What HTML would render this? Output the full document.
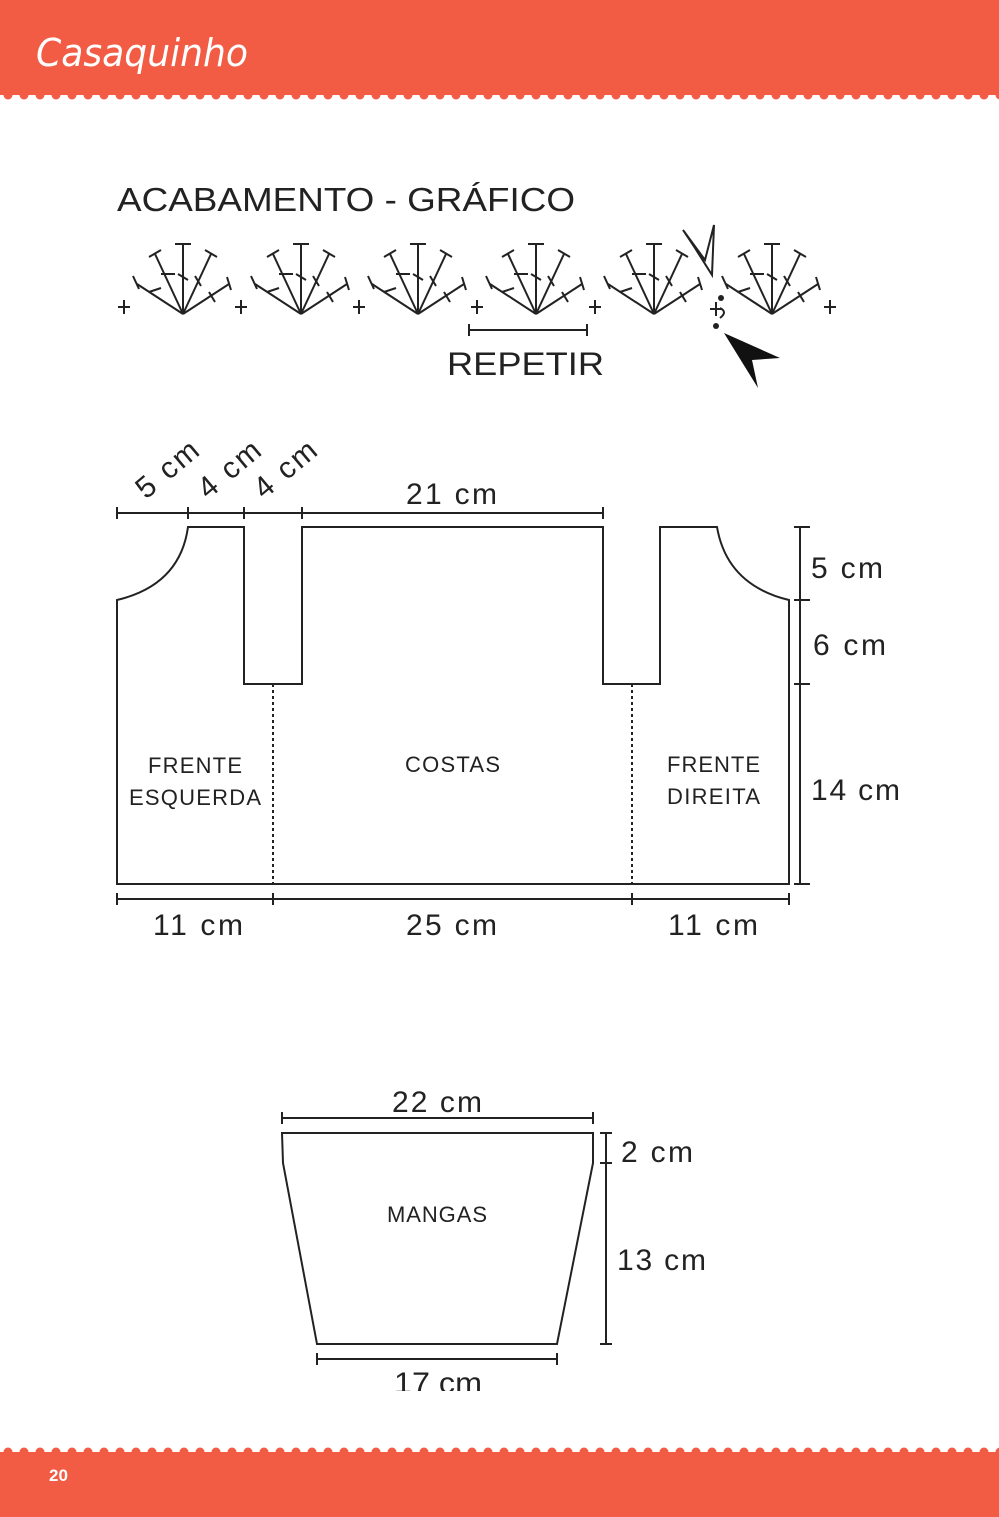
<!DOCTYPE html>
<html><head><meta charset="utf-8"><style>
html,body{margin:0;padding:0;background:#fff}
svg{display:block}
</style></head><body>
<svg width="999" height="1517" viewBox="0 0 999 1517" xmlns="http://www.w3.org/2000/svg" font-family="Liberation Sans, sans-serif">
<defs>
<pattern id="sc" x="0" y="90" width="16" height="10" patternUnits="userSpaceOnUse">
<circle cx="8" cy="5" r="4.5" fill="#f25c45"/>
</pattern>
<pattern id="sc2" x="0" y="1447" width="16" height="10" patternUnits="userSpaceOnUse">
<circle cx="8" cy="5" r="4.5" fill="#f25c45"/>
</pattern>
<g id="fan" stroke="#222" stroke-width="2" fill="none">
<line x1="0" y1="0" x2="0" y2="-70"/><line x1="-8" y1="-70" x2="8" y2="-70"/><line x1="-5" y1="-40" x2="5" y2="-34"/>
<line x1="0" y1="0" x2="-28" y2="-60"/><line x1="-34" y1="-57" x2="-22" y2="-64"/><line x1="-22" y1="-40" x2="-8" y2="-40"/>
<line x1="0" y1="0" x2="28" y2="-60"/><line x1="22" y1="-64" x2="34" y2="-57"/><line x1="12" y1="-38" x2="18" y2="-28"/>
<line x1="0" y1="0" x2="-46" y2="-30"/><line x1="-50" y1="-38" x2="-44" y2="-25"/><line x1="-34" y1="-22" x2="-22" y2="-26"/>
<line x1="0" y1="0" x2="46" y2="-30"/><line x1="44" y1="-37" x2="48" y2="-24"/><line x1="26" y1="-22" x2="32" y2="-12"/>
</g>
<g id="plus" stroke="#222" stroke-width="2"><line x1="-6" y1="0" x2="6" y2="0"/><line x1="0" y1="-7" x2="0" y2="7"/></g>
</defs>
<rect x="0" y="0" width="999" height="95" fill="#f25c45"/>
<rect x="0" y="90" width="999" height="10" fill="url(#sc)"/>
<text x="36" y="66" font-family="DejaVu Sans, sans-serif" font-style="italic" font-size="38" fill="#fff" textLength="212" lengthAdjust="spacingAndGlyphs">Casaquinho</text>
<rect x="0" y="1452" width="999" height="65" fill="#f25c45"/>
<rect x="0" y="1447" width="999" height="10" fill="url(#sc2)"/>
<text x="49" y="1481" font-size="17" font-weight="bold" fill="#fff">20</text>

<text x="117" y="211" font-size="33" fill="#222" textLength="458" lengthAdjust="spacingAndGlyphs">ACABAMENTO - GRÁFICO</text>
<use href="#fan" x="183" y="314"/><use href="#fan" x="301" y="314"/><use href="#fan" x="418" y="314"/>
<use href="#fan" x="536" y="314"/><use href="#fan" x="654" y="314"/><use href="#fan" x="772" y="314"/>
<use href="#plus" x="124" y="307"/><use href="#plus" x="241" y="307"/><use href="#plus" x="359" y="307"/>
<use href="#plus" x="477" y="307"/><use href="#plus" x="595" y="307"/><use href="#plus" x="716" y="309"/><use href="#plus" x="830" y="307"/>
<path d="M683 230 L705 260 L714 225 L712 275 L695 248 Z" fill="none" stroke="#222" stroke-width="2"/>
<circle cx="721" cy="298" r="3" fill="#222"/><circle cx="716" cy="326" r="3" fill="#222"/>
<path d="M720 308 q8 4 0 10" fill="none" stroke="#222" stroke-width="2"/>
<path d="M724 333 L780 358 L752 360 L758 388 Z" fill="#111"/>
<g stroke="#222" stroke-width="2"><line x1="469" y1="330" x2="587" y2="330"/><line x1="469" y1="324" x2="469" y2="336"/><line x1="587" y1="324" x2="587" y2="336"/></g>
<text x="447" y="375" font-size="32" fill="#222" textLength="157" lengthAdjust="spacingAndGlyphs">REPETIR</text>

<g stroke="#222" stroke-width="2" fill="none">
<path d="M117 884 L117 600 Q180 585 188 527 L244 527 L244 684 L302 684 L302 527 L603 527 L603 684 L660 684 L660 527 L717 527 Q727 585 789 600 L789 884 Z"/>
<line x1="117" y1="513" x2="603" y2="513"/>
<line x1="117" y1="507" x2="117" y2="519"/><line x1="188" y1="507" x2="188" y2="519"/><line x1="244" y1="507" x2="244" y2="519"/><line x1="302" y1="507" x2="302" y2="519"/><line x1="603" y1="507" x2="603" y2="519"/>
<line x1="800" y1="527" x2="800" y2="884"/>
<line x1="794" y1="527" x2="810" y2="527"/><line x1="794" y1="600" x2="810" y2="600"/><line x1="794" y1="684" x2="810" y2="684"/><line x1="794" y1="884" x2="810" y2="884"/>
<line x1="117" y1="899" x2="789" y2="899"/>
<line x1="117" y1="893" x2="117" y2="905"/><line x1="273" y1="893" x2="273" y2="905"/><line x1="632" y1="893" x2="632" y2="905"/><line x1="789" y1="893" x2="789" y2="905"/>
<line x1="273" y1="684" x2="273" y2="884" stroke-dasharray="3 3"/>
<line x1="632" y1="684" x2="632" y2="884" stroke-dasharray="3 3"/>
</g>
<g font-size="30" fill="#222" lengthAdjust="spacingAndGlyphs">
<text x="146" y="500" transform="rotate(-40 146 500)" textLength="72">5 cm</text>
<text x="208" y="500" transform="rotate(-40 208 500)" textLength="72">4 cm</text>
<text x="264" y="500" transform="rotate(-40 264 500)" textLength="72">4 cm</text>
<text x="406" y="504" textLength="91">21 cm</text>
<text x="811" y="578" textLength="72">5 cm</text>
<text x="813" y="655" textLength="73">6 cm</text>
<text x="811" y="800" textLength="89">14 cm</text>
<text x="153" y="935" textLength="90">11 cm</text>
<text x="406" y="935" textLength="91">25 cm</text>
<text x="668" y="935" textLength="90">11 cm</text>
<text x="392" y="1112" textLength="90">22 cm</text>
<text x="621" y="1162" textLength="72">2 cm</text>
<text x="617" y="1270" textLength="89">13 cm</text>
</g>
<g font-size="22" fill="#222" lengthAdjust="spacingAndGlyphs">
<text x="148" y="773" textLength="94">FRENTE</text><text x="129" y="805" textLength="132">ESQUERDA</text>
<text x="405" y="772" textLength="95">COSTAS</text>
<text x="667" y="772" textLength="93">FRENTE</text><text x="667" y="804" textLength="93">DIREITA</text>
<text x="387" y="1222" textLength="100">MANGAS</text>
</g>

<g stroke="#222" stroke-width="2" fill="none">
<path d="M282 1133 L593 1133 L593 1163 L557 1344 L317 1344 L283 1163 Z"/>
<line x1="282" y1="1118" x2="593" y2="1118"/><line x1="282" y1="1112" x2="282" y2="1124"/><line x1="593" y1="1112" x2="593" y2="1124"/>
<line x1="606" y1="1133" x2="606" y2="1344"/><line x1="600" y1="1133" x2="612" y2="1133"/><line x1="600" y1="1163" x2="612" y2="1163"/><line x1="600" y1="1344" x2="612" y2="1344"/>
<line x1="317" y1="1359" x2="557" y2="1359"/><line x1="317" y1="1353" x2="317" y2="1365"/><line x1="557" y1="1353" x2="557" y2="1365"/>
</g>
<svg x="0" y="1360" width="999" height="31"><text x="394" y="33" font-size="30" fill="#222" textLength="88" lengthAdjust="spacingAndGlyphs">17 cm</text></svg>
</svg>
</body></html>
